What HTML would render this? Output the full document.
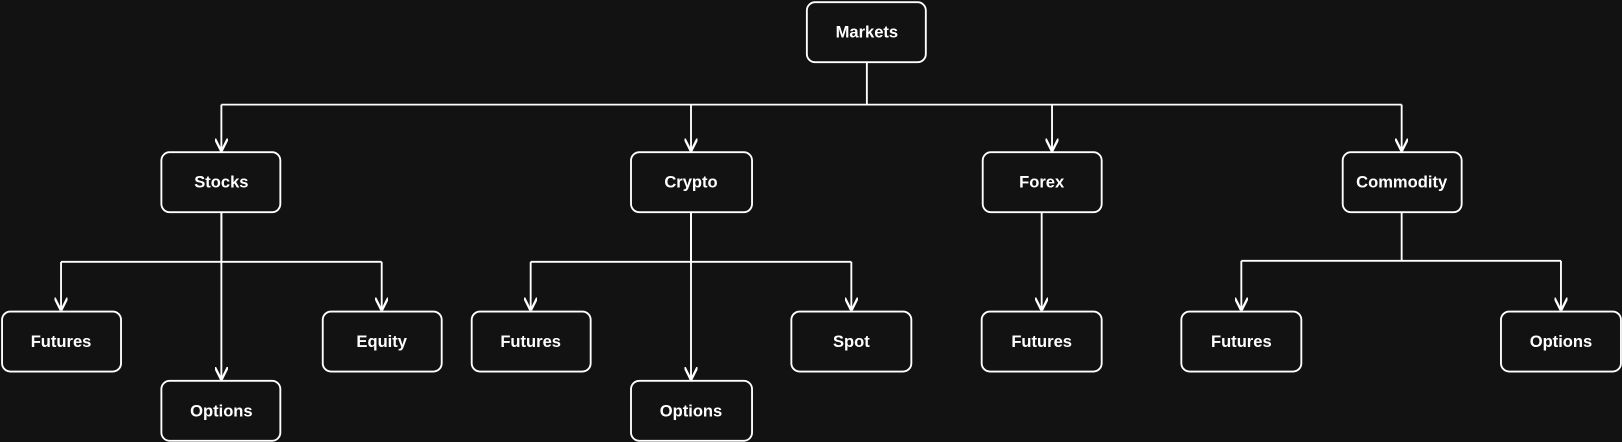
<!DOCTYPE html>
<html><head><style>
html,body{margin:0;padding:0;background:#121212;}
svg{display:block}
text{font-family:"Liberation Sans",sans-serif;font-weight:bold;font-size:16px;fill:#fff;text-anchor:middle;dominant-baseline:central}
</style></head><body>
<svg width="1622" height="442" viewBox="0 0 1568 427" xmlns="http://www.w3.org/2000/svg">
<defs>
<marker id="a" viewBox="0 0 10 10" refX="9" refY="5" markerWidth="7" markerHeight="7" orient="auto"><path d="M0,0 L10,5 L0,10" fill="none" stroke="#fff" stroke-width="1.8"/></marker>
</defs>
<g fill="none" stroke="#fff" stroke-width="1.8">
<path d="M838 60 V101 M214 101 H1355"/>
<path d="M214 101 V145" marker-end="url(#a)"/>
<path d="M668 101 V145" marker-end="url(#a)"/>
<path d="M1017 101 V145" marker-end="url(#a)"/>
<path d="M1355 101 V145" marker-end="url(#a)"/>
<path d="M214 205 V253 M59 253 H369"/>
<path d="M59 253 V299" marker-end="url(#a)"/>
<path d="M369 253 V299" marker-end="url(#a)"/>
<path d="M214 205 V366" marker-end="url(#a)"/>
<path d="M668 205 V253 M513 253 H823"/>
<path d="M513 253 V299" marker-end="url(#a)"/>
<path d="M823 253 V299" marker-end="url(#a)"/>
<path d="M668 205 V366" marker-end="url(#a)"/>
<path d="M1007 205 V299" marker-end="url(#a)"/>
<path d="M1355 205 V252 M1200 252 H1509"/>
<path d="M1200 252 V299" marker-end="url(#a)"/>
<path d="M1509 252 V299" marker-end="url(#a)"/>
<rect x="780" y="2" width="115" height="58" rx="8"/>
<rect x="156" y="147" width="115" height="58" rx="8"/>
<rect x="610" y="147" width="117" height="58" rx="8"/>
<rect x="950" y="147" width="115" height="58" rx="8"/>
<rect x="1298" y="147" width="115" height="58" rx="8"/>
<rect x="2" y="301" width="115" height="58" rx="8"/>
<rect x="312" y="301" width="115" height="58" rx="8"/>
<rect x="456" y="301" width="115" height="58" rx="8"/>
<rect x="765" y="301" width="116" height="58" rx="8"/>
<rect x="949" y="301" width="116" height="58" rx="8"/>
<rect x="1142" y="301" width="116" height="58" rx="8"/>
<rect x="1451" y="301" width="116" height="58" rx="8"/>
<rect x="156" y="368" width="115" height="58" rx="8"/>
<rect x="610" y="368" width="117" height="58" rx="8"/>
</g>
<text x="838" y="31">Markets</text>
<text x="214" y="176">Stocks</text>
<text x="668" y="176">Crypto</text>
<text x="1007" y="176">Forex</text>
<text x="1355" y="176">Commodity</text>
<text x="59" y="330">Futures</text>
<text x="369" y="330">Equity</text>
<text x="513" y="330">Futures</text>
<text x="823" y="330">Spot</text>
<text x="1007" y="330">Futures</text>
<text x="1200" y="330">Futures</text>
<text x="1509" y="330">Options</text>
<text x="214" y="397">Options</text>
<text x="668" y="397">Options</text>
</svg>
</body></html>
